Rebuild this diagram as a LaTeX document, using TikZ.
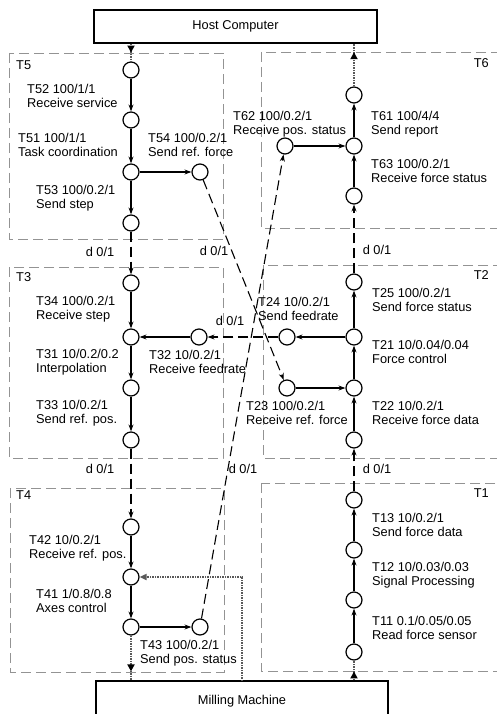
\documentclass[tikz,border=0pt]{standalone}
\usepackage{fontspec}
\setmainfont{Liberation Sans}
\usepackage{tikz}
\usetikzlibrary{arrows.meta,decorations.markings}
\tikzset{
  tk/.style={circle,draw,line width=1.2pt,minimum size=16pt,inner sep=0pt,fill=white},
  lb/.style={anchor=west,align=left,inner sep=0pt,font=\fontsize{12.8}{14}\selectfont},
  grp/.style={draw=gray!85,line width=0.8pt,dash pattern=on 10pt off 5pt},
  ar/.style={-{Stealth[length=7pt,width=5pt]},line width=1.1pt},
  da/.style={-{Stealth[length=7pt,width=5pt]},line width=1.1pt,dash pattern=on 10pt off 5pt},
  hw/.style={draw=black!65,line width=2pt,dash pattern=on 1.5pt off 1pt},
  hwtip/.style={postaction={decorate},decoration={markings,mark=at position #1 with {\arrow[black]{Triangle[length=7pt,width=7pt]}}}},
  box/.style={draw,line width=1.3pt,font=\fontsize{12.8}{14}\selectfont},
  dl/.style={font=\fontsize{12.8}{14}\selectfont,inner sep=0pt}
}

\begin{document}
\begin{tikzpicture}[x=1pt,y=-1pt]
\useasboundingbox (0,0) rectangle (497,714);
% task groups
\draw[grp] (9,53) rectangle (223,239);
\draw[grp] (261,52) rectangle (505,228);
\draw[grp] (9,267) rectangle (223,458);
\draw[grp] (263,265) rectangle (505,458);
\draw[grp] (10,488) rectangle (224,672);
\draw[grp] (261,483) rectangle (505,671);
\node[lb] (g5) at (16,65) {T5};
\node[lb,anchor=east] (g6) at (489,63) {T6};
\node[lb] (g3) at (16,277) {T3};
\node[lb,anchor=east] (g2) at (489,275) {T2};
\node[lb] (g4) at (16,495) {T4};
\node[lb,anchor=east] (g1) at (489,493) {T1};
% host and machine
\node[box,minimum width=283pt,minimum height=33pt] (host) at (235.5,26.5) {Host Computer};
\node[box,minimum width=292pt,minimum height=40pt] (mill) at (242,701) {Milling Machine};
% T5
\node[tk] (c5a) at (131,70) {};
\node[tk] (c5b) at (131,120) {};
\node[tk] (c5c) at (131,172) {};
\node[tk] (c5d) at (131,223) {};
\node[tk] (c5e) at (200,172) {};
\node[lb] (l52) at (27,96) {T52 100/1/1\\Receive service};
\node[lb] (l51) at (18,145) {T51 100/1/1\\Task coordination};
\node[lb] (l54) at (148,145) {T54 100/0.2/1\\Send ref. force};
\node[lb] (l53) at (36,198) {T53 100/0.2/1\\Send step};
% T6
\node[tk] (c6a) at (354,95) {};
\node[tk] (c6b) at (354,146) {};
\node[tk] (c6c) at (354,196) {};
\node[tk] (c6d) at (285,146) {};
\node[lb] (l62) at (233,124) {T62 100/0.2/1\\Receive pos. status};
\node[lb] (l61) at (371,124) {T61 100/4/4\\Send report};
\node[lb] (l63) at (371,171) {T63 100/0.2/1\\Receive force status};
% T3
\node[tk] (c3a) at (131,283) {};
\node[tk] (c3b) at (131,337) {};
\node[tk] (c3c) at (131,388) {};
\node[tk] (c3d) at (131,440) {};
\node[tk] (c3e) at (199,337) {};
\node[lb] (l34) at (36,309) {T34 100/0.2/1\\Receive step};
\node[lb] (l31) at (36,362) {T31 10/0.2/0.2\\Interpolation};
\node[lb] (l32) at (149,362) {T32 10/0.2/1\\Receive feedrate};
\node[lb] (l33) at (36,413) {T33 10/0.2/1\\Send ref. pos.};
% T2
\node[tk] (c2a) at (354,282) {};
\node[tk] (c2b) at (354,337) {};
\node[tk] (c2c) at (354,388) {};
\node[tk] (c2d) at (354,440) {};
\node[tk] (c2e) at (287,337) {};
\node[tk] (c2f) at (287,388) {};
\node[lb] (l25) at (372,300) {T25 100/0.2/1\\Send force status};
\node[lb] (l24) at (258,309) {T24 10/0.2/1\\Send feedrate};
\node[lb] (l21) at (372,352) {T21 10/0.04/0.04\\Force control};
\node[lb] (l23) at (246,413) {T23 100/0.2/1\\Receive ref. force};
\node[lb] (l22) at (372,413) {T22 10/0.2/1\\Receive force data};
% T4
\node[tk] (c4a) at (131,527) {};
\node[tk] (c4b) at (131,577) {};
\node[tk] (c4c) at (131,627) {};
\node[tk] (c4d) at (200,627) {};
\node[lb] (l42) at (29,548) {T42 10/0.2/1\\Receive ref. pos.};
\node[lb] (l41) at (36,601) {T41 1/0.8/0.8\\Axes control};
\node[lb] (l43) at (140,653) {T43 100/0.2/1\\Send pos. status};
% T1
\node[tk] (c1a) at (354,500) {};
\node[tk] (c1b) at (354,550) {};
\node[tk] (c1c) at (354,600) {};
\node[tk] (c1d) at (354,652) {};
\node[lb] (l13) at (372,525) {T13 10/0.2/1\\Send force data};
\node[lb] (l12) at (372,575) {T12 10/0.03/0.03\\Signal Processing};
\node[lb] (l11) at (372,628) {T11 0.1/0.05/0.05\\Read force sensor};
% flow inside groups
\draw[ar] (c5a)--(c5b);
\draw[ar] (c5b)--(c5c);
\draw[ar] (c5c)--(c5d);
\draw[ar] (c5c)--(c5e);
\draw[ar] (c6c)--(c6b);
\draw[ar] (c6b)--(c6a);
\draw[ar] (c6d)--(c6b);
\draw[ar] (c3a)--(c3b);
\draw[ar] (c3b)--(c3c);
\draw[ar] (c3c)--(c3d);
\draw[ar] (c3e)--(c3b);
\draw[ar] (c2d)--(c2c);
\draw[ar] (c2c)--(c2b);
\draw[ar] (c2b)--(c2a);
\draw[ar] (c2b)--(c2e);
\draw[ar] (c2f)--(c2c);
\draw[ar] (c4a)--(c4b);
\draw[ar] (c4b)--(c4c);
\draw[ar] (c4c)--(c4d);
\draw[ar] (c1d)--(c1c);
\draw[ar] (c1c)--(c1b);
\draw[ar] (c1b)--(c1a);
% messages between groups
\draw[da] (c5d)--(c3a);
\draw[da] (c5e)--(c2f);
\draw[da] (c2a)--(c6c);
\draw[da] (c2e)--(c3e);
\draw[da] (c3d)--(c4a);
\draw[da] (c4d)--(c6d);
\draw[da] (c1a)--(c2d);
\node[dl] (d1) at (100,252) {d 0/1};
\node[dl] (d2) at (214,251) {d 0/1};
\node[dl] (d3) at (377,250) {d 0/1};
\node[dl] (d4) at (230,321) {d 0/1};
\node[dl] (d5) at (100,469) {d 0/1};
\node[dl] (d6) at (243,469) {d 0/1};
\node[dl] (d7) at (377,469) {d 0/1};
% host and machine links
\coordinate (fb) at (242,681);
\draw[hw,hwtip=0.5] (host.south -| c5a)--(c5a);
\draw[hw,hwtip=0.8] (c6a)--(host.south -| c6a);
\draw[hw,hwtip=0.8] (c4c)--(mill.north -| c4c);
\draw[hw,hwtip=0.45] (mill.north -| c1d)--(c1d);
\draw[hw,-{Triangle[length=7pt,width=6pt]}] (fb) |- (c4b);
\end{tikzpicture}
\end{document}
